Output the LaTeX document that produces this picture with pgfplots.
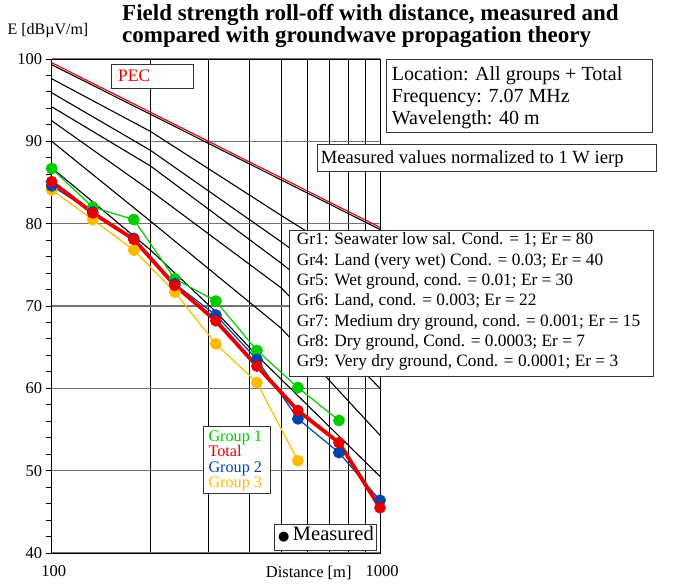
\documentclass[border=0pt]{standalone}
\usepackage{fontspec}
\setmainfont{Liberation Serif}
\newfontfamily\symfont{DejaVu Sans}
\usepackage{pgfplots}
\pgfplotsset{compat=1.18}
\definecolor{ggreen}{RGB}{0,204,0}
\definecolor{gred}{RGB}{228,0,0}
\definecolor{gblue}{RGB}{0,68,170}
\definecolor{gorange}{RGB}{255,186,0}
\newcommand{\fs}[2]{\fontsize{#1}{#2}\selectfont}
\begin{document}
\begin{tikzpicture}[x=1pt,y=1pt]
\path[use as bounding box] (0,0) rectangle (674,584);
\begin{axis}[at={(51.7pt,31pt)}, anchor=south west, scale only axis,
  width=328.3pt, height=494pt,
  xmode=log, xmin=100, xmax=1000, ymin=40, ymax=100,
  xtick={100,1000}, xticklabels={100,1000},
  minor xtick={200,300,400,500,600,700,800,900},
  ytick={40,50,60,70,80,90,100}, yticklabels={40,50,60,70,80,90,100},
  minor ytick={42,44,46,48,52,54,56,58,62,64,66,68,72,74,76,78,82,84,86,88,92,94,96,98},
  xminorgrids=true, ymajorgrids=true, xmajorgrids=false,
  minor x grid style={black, line width=0.9pt},
  major y grid style={black!55, line width=1.2pt},
  every major x tick/.style={draw=none},
  every minor x tick/.style={draw=none},
  ytick pos=left, tick align=outside,
  major tick length=6pt, minor tick length=6pt,
  tick style={black, line width=0.9pt},
  axis line style={black, line width=1pt},
  yticklabel style={font=\fs{16.5}{16.5}},
  xticklabel style={font=\fs{16.5}{16.5}, yshift=-3pt, xshift=2pt},
  clip=true,
]
% theory curves
\addplot[black, line width=1.1pt] coordinates {(100,99.3) (1000,79.3)};
\addplot[gred, line width=1.1pt] coordinates {(100,99.55) (1000,79.55)};
\addplot[black, line width=1.1pt] coordinates {(100,97.6) (200,91.2) (500,81.0) (1000,73.5)};
\addplot[black, line width=1.1pt] coordinates {(100,95.9) (200,88.9) (500,77.8) (1000,69.0)};
\addplot[black, line width=1.1pt] coordinates {(100,94.2) (200,87.0) (500,75.2) (1000,65.5)};
\addplot[black, line width=1.1pt] coordinates {(100,92.5) (200,84.0) (500,72.2) (1000,60.0)};
\addplot[black, line width=1.1pt] coordinates {(100,90.0) (200,80.3) (500,67.3) (1000,54.3)};
\addplot[black, line width=1.1pt] coordinates {(100,86.8) (200,76.8) (316.23,69.3) (421.7,64.0) (1000,49.3)};
% measured
\addplot[gorange, line width=1.2pt, mark=*, mark size=5.3pt, mark options={solid}] coordinates {
(100,84.1) (133.35,80.5) (177.83,76.8) (237.14,71.7) (316.23,65.4) (421.7,60.7) (562.34,51.2)};
\addplot[ggreen, line width=1.2pt, mark=*, mark size=5.3pt] coordinates {
(100,86.7) (133.35,82.0) (177.83,80.5) (237.14,73.3) (316.23,70.6) (421.7,64.6) (562.34,60.1) (749.89,56.1)};
\addplot[gblue, line width=1.2pt, mark=*, mark size=5.3pt] coordinates {
(100,84.6) (133.35,81.4) (177.83,78.2) (237.14,72.7) (316.23,68.9) (421.7,63.5) (562.34,56.3) (749.89,52.2) (1000,46.4)};
\addplot[gred, line width=3.8pt, mark=*, mark size=5.3pt, mark options={line width=1pt}] coordinates {
(100,85.1) (133.35,81.3) (177.83,78.1) (237.14,72.5) (316.23,68.2) (421.7,62.7) (562.34,57.3) (749.89,53.4) (1000,45.5)};
\end{axis}
% texts
\node[anchor=north west, align=left, font=\bfseries\fs{23}{22.5}, inner sep=0pt] at (122,580) {Field strength roll-off with distance, measured and\\compared with groundwave propagation theory};
\node[anchor=base west, font=\fs{16}{16}] at (4,549) {E [dBµV/m]};
\node[anchor=base, font=\fs{16.5}{16.5}] at (308.7,7) {Distance [m]};
% PEC box
\draw[black!80, line width=1pt, fill=white] (111.7,519) rectangle (193.3,495);
\node[anchor=base west, text=gred, font=\fs{17.5}{17.5}, inner sep=0pt] at (118,502) {PEC};
% info box
\draw[black!80, line width=1pt, fill=white] (386.7,524.7) rectangle (652.7,451.3);
\node[anchor=base west, font=\fs{20}{20}, inner sep=0pt] at (391.7,503.3) {Location: All groups + Total};
\node[anchor=base west, font=\fs{20}{20}, inner sep=0pt] at (391.7,481) {Frequency: 7.07 MHz};
\node[anchor=base west, font=\fs{20}{20}, inner sep=0pt] at (391.7,459.5) {Wavelength: 40 m};
% normalized box
\draw[black!80, line width=1pt, fill=white] (317.3,439.7) rectangle (656,412.3);
\node[anchor=base west, font=\fs{18.6}{18.6}, inner sep=0pt] at (320.7,420) {Measured values normalized to 1 W ierp};
% ground legend
\draw[black!80, line width=1pt, fill=white] (289.3,353.3) rectangle (653.3,207.3);
\foreach \t [count=\i from 0] in {%
 {Gr1: Seawater low sal. Cond. = 1; Er = 80},
 {Gr4: Land (very wet) Cond. = 0.03; Er = 40},
 {Gr5: Wet ground, cond. = 0.01; Er = 30},
 {Gr6: Land, cond. = 0.003; Er = 22},
 {Gr7: Medium dry ground, cond. = 0.001; Er = 15},
 {Gr8: Dry ground, Cond. = 0.0003; Er = 7},
 {Gr9: Very dry ground, Cond. = 0.0001; Er = 3}}
 {\node[anchor=base west, font=\fs{17.3}{17.3}, inner sep=0pt] at (296.7,339-20.3*\i) {\t};}
% group legend
\draw[black!80, line width=1pt, fill=white] (203.3,158) rectangle (270,90.7);
\node[anchor=base west, text=ggreen, font=\fs{16.2}{16.2}, inner sep=0pt] at (208.3,142.3) {Group 1};
\node[anchor=base west, text=gred, font=\fs{16.2}{16.2}, inner sep=0pt] at (208.3,127.1) {Total};
\node[anchor=base west, text=gblue, font=\fs{16.2}{16.2}, inner sep=0pt] at (208.3,111.9) {Group 2};
\node[anchor=base west, text=gorange, font=\fs{16.2}{16.2}, inner sep=0pt] at (208.3,96.7) {Group 3};
% measured box
\draw[black!80, line width=1pt, fill=white] (274,60) rectangle (376.7,34);
\node[anchor=base west, font=\fs{20.5}{20.5}, inner sep=0pt] at (278,44) {{\symfont\fs{13}{13}●}\,Measured};
\end{tikzpicture}
\end{document}
